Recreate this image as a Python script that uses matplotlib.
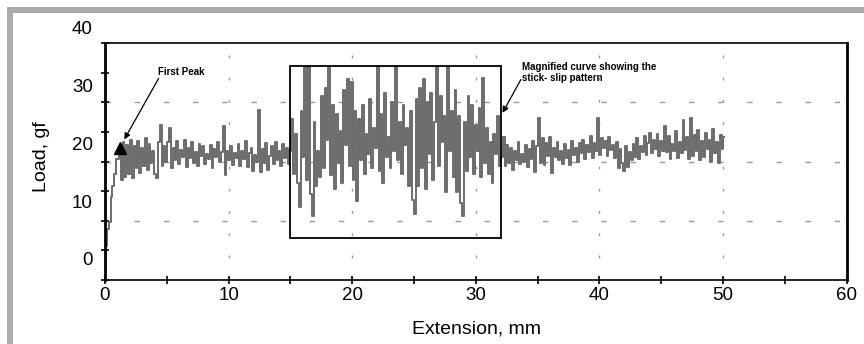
import numpy as np
import matplotlib
matplotlib.use("Agg")
import matplotlib.pyplot as plt
from matplotlib.patches import Rectangle
from matplotlib.transforms import blended_transform_factory

plt.rcParams['font.family'] = ['Liberation Sans', 'DejaVu Sans']

# initial loading ramp up to the first peak
ext_rise = [0.0, 0.02, 0.1, 0.25, 0.4, 0.55, 0.65, 0.8, 1.0, 1.2]
load_rise = [-3.3, 1.5, 2.5, 5.6, 6.7, 11.0, 13.0, 15.1, 17.7, 19.5]

# steady sliding, 1.35 .. 14.85 mm
load_a = [14.0, 20.5, 14.5, 20.0, 15.0, 21.0, 14.3, 19.8, 16.0, 20.8,
          15.2, 19.5, 16.5, 21.2, 15.8, 20.2, 17.0, 19.0, 15.0, 14.3,
          20.5, 23.5, 16.5, 19.8, 17.2, 20.6, 23.0, 16.0, 19.5, 17.5,
          20.8, 16.8, 19.2, 18.0, 21.0, 16.2, 19.5, 17.8, 20.5, 17.0,
          18.8, 16.5, 20.2, 18.2, 19.8, 16.8, 18.5, 17.6, 20.0, 16.0,
          19.4, 18.0, 20.6, 17.2, 18.8, 23.3, 14.8, 19.0, 17.5, 19.8,
          16.6, 18.6, 17.8, 20.2, 16.4, 19.0, 17.6, 20.8, 16.2, 18.6,
          19.6, 15.6, 18.4, 17.2, 26.1, 15.4, 19.4, 17.0, 20.4, 15.8,
          18.2, 19.8, 16.8, 20.6, 17.4, 19.0, 16.4, 20.2, 17.8, 19.6,
          16.8]

# stick-slip region (magnified box), 15.0 .. 31.95 mm
load_b = [19.0, 24.5, 15.0, 22.0, 13.5, 9.3, 26.0, 18.0, 33.5, 14.0,
          33.5, 11.5, 7.8, 24.0, 13.0, 19.0, 14.5, 28.5, 16.0, 30.0,
          21.0, 33.5, 14.8, 27.0, 12.5, 25.5, 17.0, 22.5, 13.5, 29.5,
          20.0, 31.5, 16.5, 31.0, 14.0, 26.0, 10.4, 24.5, 17.5, 27.0,
          15.0, 22.0, 18.5, 28.0, 16.0, 23.0, 19.5, 33.5, 15.5, 25.5,
          13.5, 29.0, 18.0, 21.5, 16.0, 27.5, 19.0, 33.5, 17.5, 24.0,
          15.0, 27.0, 20.0, 23.0, 13.0, 26.0, 10.5, 8.2, 28.0, 13.0,
          30.0, 16.0, 31.5, 12.5, 27.5, 18.5, 29.0, 14.0, 24.0, 33.5,
          16.5, 28.5, 20.5, 25.0, 12.0, 33.5, 19.0, 26.0, 14.5, 29.5,
          12.0, 25.0, 10.0, 7.8, 24.0, 15.5, 28.5, 18.0, 27.0, 15.0,
          23.5, 19.0, 26.5, 14.5, 31.6, 17.0, 23.0, 15.0, 20.5, 13.5,
          22.0, 18.5, 25.0, 16.5]

# steady sliding after the box, 32.1 .. 50.1 mm
load_c = [18.0, 21.5, 16.5, 20.0, 17.0, 19.5, 15.8, 19.0, 17.5, 20.5,
          16.8, 18.5, 17.2, 20.0, 16.2, 19.4, 17.6, 20.8, 15.4, 19.8,
          24.7, 17.0, 21.2, 16.6, 20.4, 18.2, 21.5, 15.2, 19.6, 18.0,
          20.6, 17.4, 19.0, 16.8, 20.2, 17.8, 19.2, 16.6, 20.8, 18.4,
          19.6, 17.2, 20.4, 18.6, 21.0, 17.6, 20.0, 18.8, 21.6, 17.8,
          20.4, 19.0, 24.7, 18.4, 21.2, 19.6, 20.8, 18.2, 21.4, 19.2,
          20.0, 17.8, 20.6, 16.0, 19.4, 17.0, 15.6, 19.8, 16.2, 18.8,
          17.4, 20.2, 18.0, 21.2, 17.6, 19.8, 18.8, 21.6, 18.4, 20.4,
          22.2, 18.6, 21.0, 19.4, 22.0, 18.2, 20.8, 19.0, 23.4, 18.8,
          21.6, 17.6, 20.2, 19.0, 22.4, 17.8, 20.6, 18.6, 24.3, 19.2,
          21.4, 17.6, 24.7, 18.2, 21.8, 19.0, 22.6, 17.4, 20.8, 18.0,
          22.2, 19.4, 21.0, 17.2, 22.8, 18.6, 20.6, 17.0, 21.8, 19.4,
          21.4]

x_tick_vals = [0, 10, 20, 30, 40, 50, 60]
y_tick_labels = [0, 10, 20, 30, 40]
first_peak = (1.2, 19.5)

ext = np.concatenate([
    ext_rise,
    np.linspace(1.35, 14.85, len(load_a)),
    np.linspace(15.0, 31.95, len(load_b)),
    np.linspace(32.1, 50.1, len(load_c)),
])
load = np.concatenate([load_rise, load_a, load_b, load_c])

fig = plt.figure(figsize=(8.64, 3.44), dpi=100)
ax = fig.add_axes([105 / 864, 1 - 280 / 344, 741.7 / 864, 237 / 344])

y_lo, y_hi = -3.3, 37.7
ax.set_xlim(0, 60)
ax.set_ylim(y_lo, y_hi)

# gray frame round the figure (top and left only)
frame_col = '#ababae'
fig.add_artist(Rectangle((7 / 864, 1 - 13 / 344), 1 - 7 / 864, 6 / 344,
                         transform=fig.transFigure, color=frame_col, lw=0))
fig.add_artist(Rectangle((7 / 864, 0), 6 / 864, 1 - 7 / 344,
                         transform=fig.transFigure, color=frame_col, lw=0))

# grid
y_marks = np.linspace(y_lo, y_hi, 9)
for yv in y_marks[[2, 4, 6]]:
    ax.axhline(yv, color='#9a9a9a', lw=1.0, dashes=(4, 17), zorder=1)
for xv in [10, 20, 30, 40, 50]:
    ax.axvline(xv, color='#9a9a9a', lw=1.0, dashes=(2, 14), zorder=1)

ax.plot(ext, load, color='#6b6b6b', lw=1.4, drawstyle='steps-mid', zorder=2)

# magnified region box
ax.add_patch(Rectangle((15.0, 3.95), 17.0, 33.8 - 3.95, fill=False,
                       ec='black', lw=1.3, zorder=3))

ax.plot(*first_peak, marker='^', color='black', ms=8, zorder=4)
ax.text(4.3, 32.6, 'First Peak', fontsize=7, fontweight='bold', ha='left', va='center')
ax.annotate('', xy=(1.45, 20.6), xytext=(4.45, 32.0),
            arrowprops=dict(arrowstyle='-|>', color='black', lw=0.9, mutation_scale=9))

ax.text(33.7, 32.6, 'Magnified curve showing the\nstick- slip pattern', fontsize=7,
        fontweight='bold', ha='left', va='center', linespacing=1.1)
ax.annotate('', xy=(32.05, 25.2), xytext=(33.75, 31.8),
            arrowprops=dict(arrowstyle='-|>', color='black', lw=0.9, mutation_scale=9))

# axes styling
for side in ['left', 'right']:
    ax.spines[side].set_linewidth(2.0)
for side in ['top', 'bottom']:
    ax.spines[side].set_linewidth(1.2)

ax.set_xticks(np.arange(0, 61, 5))
ax.set_xticklabels([str(v) if v in x_tick_vals else '' for v in range(0, 61, 5)])
ax.tick_params(axis='x', direction='inout', length=6, width=1.2, labelsize=13.5, pad=2)
ax.set_yticks(y_marks)
ax.set_yticklabels([])
ax.tick_params(axis='y', direction='inout', length=6, width=1.2)

trans = blended_transform_factory(ax.transAxes, ax.transData)
for v in y_tick_labels:
    ax.text(-0.0162, v, str(v), transform=trans, ha='right', va='center',
            fontsize=13.5, clip_on=False)

fig.text(41 / 864, 1 - 157 / 344, 'Load, gf', rotation=90, ha='center', va='center', fontsize=14)
fig.text(476 / 864, 1 - 329 / 344, 'Extension, mm', ha='center', va='center', fontsize=14)

fig.savefig('out.png', dpi=100)
